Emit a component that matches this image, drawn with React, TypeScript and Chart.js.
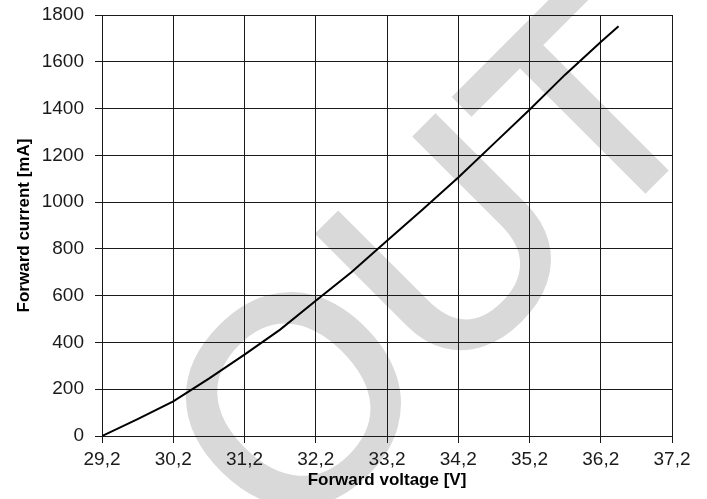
import React, { useEffect, useRef } from "react";
import { Chart, registerables } from "chart.js";

Chart.register(...registerables);

const voltage = [29.2, 29.7, 30.2, 30.7, 31.2, 31.7, 32.2, 32.7, 33.2, 33.7, 34.2, 34.7, 35.2, 35.7, 36.2, 36.45];
const current = [0, 72, 148, 245, 348, 455, 578, 700, 835, 968, 1105, 1250, 1395, 1545, 1685, 1752];
const xTicks = [29.2, 30.2, 31.2, 32.2, 33.2, 34.2, 35.2, 36.2, 37.2];
const yTicks = [0, 200, 400, 600, 800, 1000, 1200, 1400, 1600, 1800];
const xTitle = "Forward voltage [V]";
const yTitle = "Forward current [mA]";
const watermark = "OUT";

const FONT = "'Liberation Sans', Arial, sans-serif";

const watermarkPlugin = {
  id: "watermark",
  beforeDraw(chart: any) {
    const ctx = chart.ctx;
    ctx.save();
    const size = 290;
    ctx.font = `${size}px 'Liberation Sans', Arial, sans-serif`;
    ctx.fillStyle = "#d9d9d9";
    ctx.strokeStyle = "#d9d9d9";
    ctx.lineWidth = 6;
    ctx.lineJoin = "miter";
    const angle = (-45 * Math.PI) / 180;
    const ux = Math.cos(angle), uy = Math.sin(angle);
    const tStemCenter = ctx.measureText("OU").width + ctx.measureText("T").width / 2;
    const sx = 655 - tStemCenter * ux;
    const sy = 180 - tStemCenter * uy;
    ctx.translate(sx, sy);
    ctx.rotate(angle);
    ctx.textAlign = "left";
    ctx.textBaseline = "alphabetic";
    ctx.fillText(watermark, 0, 0);
    ctx.strokeText(watermark, 0, 0);
    ctx.restore();
  },
};

export default function App() {
  const ref = useRef<HTMLCanvasElement | null>(null);
  useEffect(() => {
    if (!ref.current) return;
    const gridColor = "#1a1a1a";
    const chart = new Chart(ref.current, {
      type: "line",
      data: {
        datasets: [
          {
            data: voltage.map((v, i) => ({ x: v, y: current[i] })),
            borderColor: "#000",
            borderWidth: 2,
            pointRadius: 0,
            tension: 0,
            fill: false,
          },
        ],
      },
      options: {
        animation: false,
        responsive: false,
        maintainAspectRatio: false,
        layout: { padding: { left: 14, right: 35, top: 15, bottom: 8 } },
        plugins: { legend: { display: false }, tooltip: { enabled: false } },
        scales: {
          x: {
            type: "linear",
            min: xTicks[0],
            max: xTicks[xTicks.length - 1],
            afterBuildTicks: (axis: any) => {
              axis.ticks = xTicks.map((v) => ({ value: v }));
            },
            afterFit: (scale: any) => {
              scale.height = 55;
              scale.paddingLeft = 0;
              scale.paddingRight = 0;
              scale.paddingTop = 0;
              scale.paddingBottom = 0;
            },
            grid: { color: gridColor, lineWidth: 1, tickLength: 7, drawTicks: true, tickColor: gridColor },
            border: { display: true, color: gridColor },
            ticks: {
              color: "#1a1a1a",
              font: { family: FONT, size: 19 },
              padding: 5,
              maxRotation: 0,
              autoSkip: false,
              callback: (v: any) => Number(v).toFixed(1).replace(".", ","),
            },
            title: {
              display: true,
              text: xTitle,
              color: "#000",
              font: { family: FONT, size: 17, weight: "bold" },
              padding: { top: 0, bottom: 0 },
            },
          },
          y: {
            type: "linear",
            min: yTicks[0],
            max: yTicks[yTicks.length - 1],
            afterBuildTicks: (axis: any) => {
              axis.ticks = yTicks.map((v) => ({ value: v }));
            },
            afterFit: (scale: any) => {
              scale.width = 88;
              scale.paddingLeft = 0;
              scale.paddingRight = 0;
              scale.paddingTop = 0;
              scale.paddingBottom = 0;
            },
            grid: { color: gridColor, lineWidth: 1, tickLength: 7, drawTicks: true, tickColor: gridColor },
            border: { display: true, color: gridColor },
            ticks: {
              color: "#1a1a1a",
              font: { family: FONT, size: 19 },
              padding: 11,
              autoSkip: false,
              callback: (v: any) => String(v),
            },
            title: {
              display: true,
              text: yTitle,
              color: "#000",
              font: { family: FONT, size: 17, weight: "bold" },
              padding: { top: 0, bottom: 6 },
            },
          },
        },
      },
      plugins: [watermarkPlugin],
    });
    return () => chart.destroy();
  }, []);
  return (
    <div style={{ position: "fixed", left: 0, top: 0, width: 707, height: 499, background: "#fff" }}>
      <canvas ref={ref} width={707} height={499} style={{ width: 707, height: 499 }} />
    </div>
  );
}
